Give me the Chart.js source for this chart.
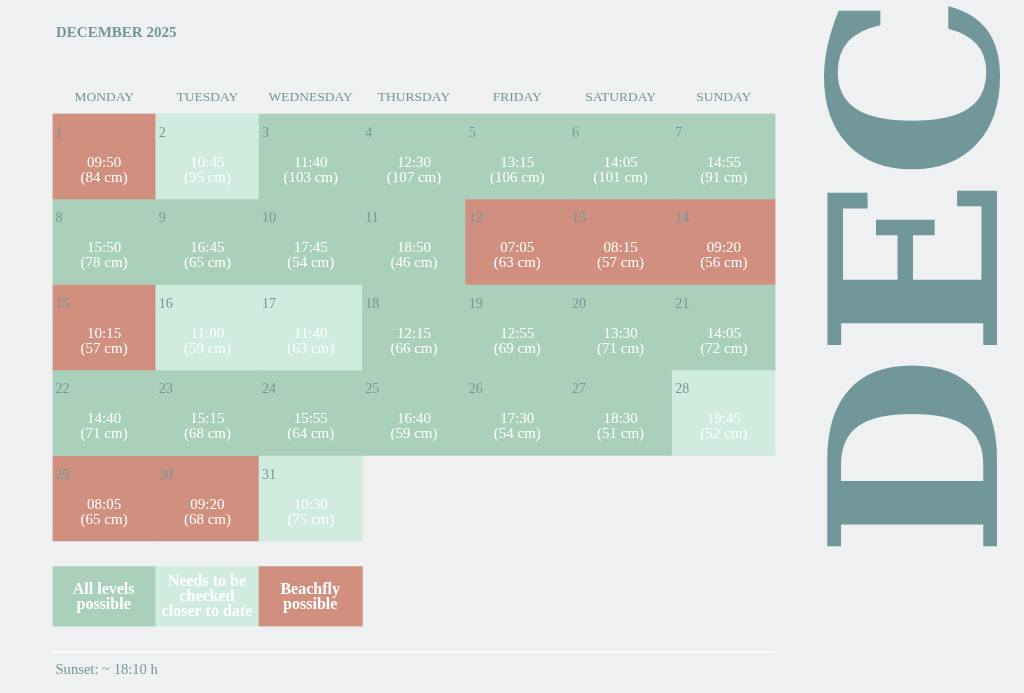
<!DOCTYPE html>
<html><head><meta charset="utf-8">
<style>html,body{margin:0;padding:0;background:#eff0f2}canvas{display:block}</style>
<script src="https://cdn.jsdelivr.net/npm/chart.js@4"></script>
</head><body>
<div style="width:1024px;height:693px"><canvas id="c" width="1024" height="693"></canvas></div>
<script>
const weekdays = ['MONDAY','TUESDAY','WEDNESDAY','THURSDAY','FRIDAY','SATURDAY','SUNDAY'];
const week1Days = [1,2,3,4,5,6,7];
const week1Times = ['09:50','10:45','11:40','12:30','13:15','14:05','14:55'];
const week1Cm = [84,95,103,107,106,101,91];
const week1Status = ['b','n','a','a','a','a','a'];
const week2Days = [8,9,10,11,12,13,14];
const week2Times = ['15:50','16:45','17:45','18:50','07:05','08:15','09:20'];
const week2Cm = [78,65,54,46,63,57,56];
const week2Status = ['a','a','a','a','b','b','b'];
const week3Days = [15,16,17,18,19,20,21];
const week3Times = ['10:15','11:00','11:40','12:15','12:55','13:30','14:05'];
const week3Cm = [57,59,63,66,69,71,72];
const week3Status = ['b','n','n','a','a','a','a'];
const week4Days = [22,23,24,25,26,27,28];
const week4Times = ['14:40','15:15','15:55','16:40','17:30','18:30','19:45'];
const week4Cm = [71,68,64,59,54,51,52];
const week4Status = ['a','a','a','a','a','a','n'];
const week5Days = [29,30,31];
const week5Times = ['08:05','09:20','10:30'];
const week5Cm = [65,68,75];
const week5Status = ['b','b','n'];
const legendStatus = ['a','n','b'];
const legendLabels = [['All levels','possible'],['Needs to be','checked','closer to date'],['Beachfly','possible']];
const titleText = 'DECEMBER 2025';
const footerText = 'Sunset: ~ 18:10 h';
const sideText = 'DEC';

const FONT = '"Liberation Serif"';
const TEAL = '#72979b', BG = '#eff0f2';
const COLORS = {a:'#aad0bb', n:'#cfecde', b:'#d08f7f'};
const weeks = [
 {d:week1Days,t:week1Times,c:week1Cm,s:week1Status},
 {d:week2Days,t:week2Times,c:week2Cm,s:week2Status},
 {d:week3Days,t:week3Times,c:week3Cm,s:week3Status},
 {d:week4Days,t:week4Times,c:week4Cm,s:week4Status},
 {d:week5Days,t:week5Times,c:week5Cm,s:week5Status}
];
const LEG_TOP = 5.3, LEG_BOT = 6;
const datasets = weeks.map((w,r)=>({
  data: w.s.map(()=>[r,r+1]),
  backgroundColor: w.s.map(k=>COLORS[k])
}));
datasets.push({data: legendStatus.map(()=>[LEG_TOP,LEG_BOT]), backgroundColor: legendStatus.map(k=>COLORS[k])});

const textPlugin = {
  id:'calendarText',
  afterDatasetsDraw(chart){
    const ctx = chart.ctx, x = chart.scales.x, y = chart.scales.y;
    const colW = x.getPixelForValue(1)-x.getPixelForValue(0);
    ctx.save();
    ctx.textBaseline='middle';
    weeks.forEach((w,r)=>{
      const top = y.getPixelForValue(r);
      w.d.forEach((d,i)=>{
        const cx = x.getPixelForValue(i);
        ctx.textAlign='left'; ctx.fillStyle=TEAL; ctx.font='14px '+FONT;
        ctx.fillText(String(d), cx-colW/2+3, top+19.5);
        ctx.textAlign='center'; ctx.fillStyle='#ffffff'; ctx.font='15px '+FONT;
        ctx.fillText(w.t[i], cx, top+49.5);
        ctx.fillText('('+w.c[i]+' cm)', cx, top+64.5);
      });
    });
    ctx.font='bold 16px '+FONT; ctx.fillStyle='#ffffff'; ctx.textAlign='center';
    const lc=(y.getPixelForValue(LEG_TOP)+y.getPixelForValue(LEG_BOT))/2+0.5;
    legendLabels.forEach((ls,i)=>{
      ls.forEach((l,j)=>ctx.fillText(l, x.getPixelForValue(i)-0.5, lc+(j-(ls.length-1)/2)*15));
    });
    ctx.textAlign='left'; ctx.fillStyle=TEAL;
    ctx.font='bold 15px '+FONT; ctx.fillText(titleText,56,33);
    ctx.font='14.6px '+FONT; ctx.fillText(footerText,55.5,670.5);
    ctx.strokeStyle='#ffffff'; ctx.lineWidth=1.5;
    ctx.beginPath(); ctx.moveTo(x.left-0.5,652); ctx.lineTo(x.right,652); ctx.stroke();
    ctx.translate(997,557); ctx.rotate(-Math.PI/2);
    ctx.textBaseline='alphabetic'; ctx.font='bold 232px "DejaVu Serif"'; ctx.fillStyle=TEAL;
    ctx.fillText(sideText,0,0);
    ctx.restore();
  }
};
new Chart(document.getElementById('c'),{
  type:'bar',
  data:{labels:weekdays,datasets},
  plugins:[textPlugin],
  options:{
    responsive:false,animation:false,
    layout:{padding:{left:52.5,right:248.5,top:0,bottom:66.5}},
    datasets:{bar:{barPercentage:1,categoryPercentage:1,borderWidth:0,grouped:false}},
    plugins:{legend:{display:false},tooltip:{enabled:false},title:{display:false}},
    scales:{
      x:{position:'top',offset:true,grid:{display:false,drawTicks:false},border:{display:false},
         afterFit(s){s.height=113.5;},
         ticks:{color:TEAL,font:{family:FONT,size:13.5},padding:7.5,maxRotation:0,autoSkip:false}},
      y:{display:false,reverse:true,min:0,max:6}
    }
  }
});
</script>
</body></html>
